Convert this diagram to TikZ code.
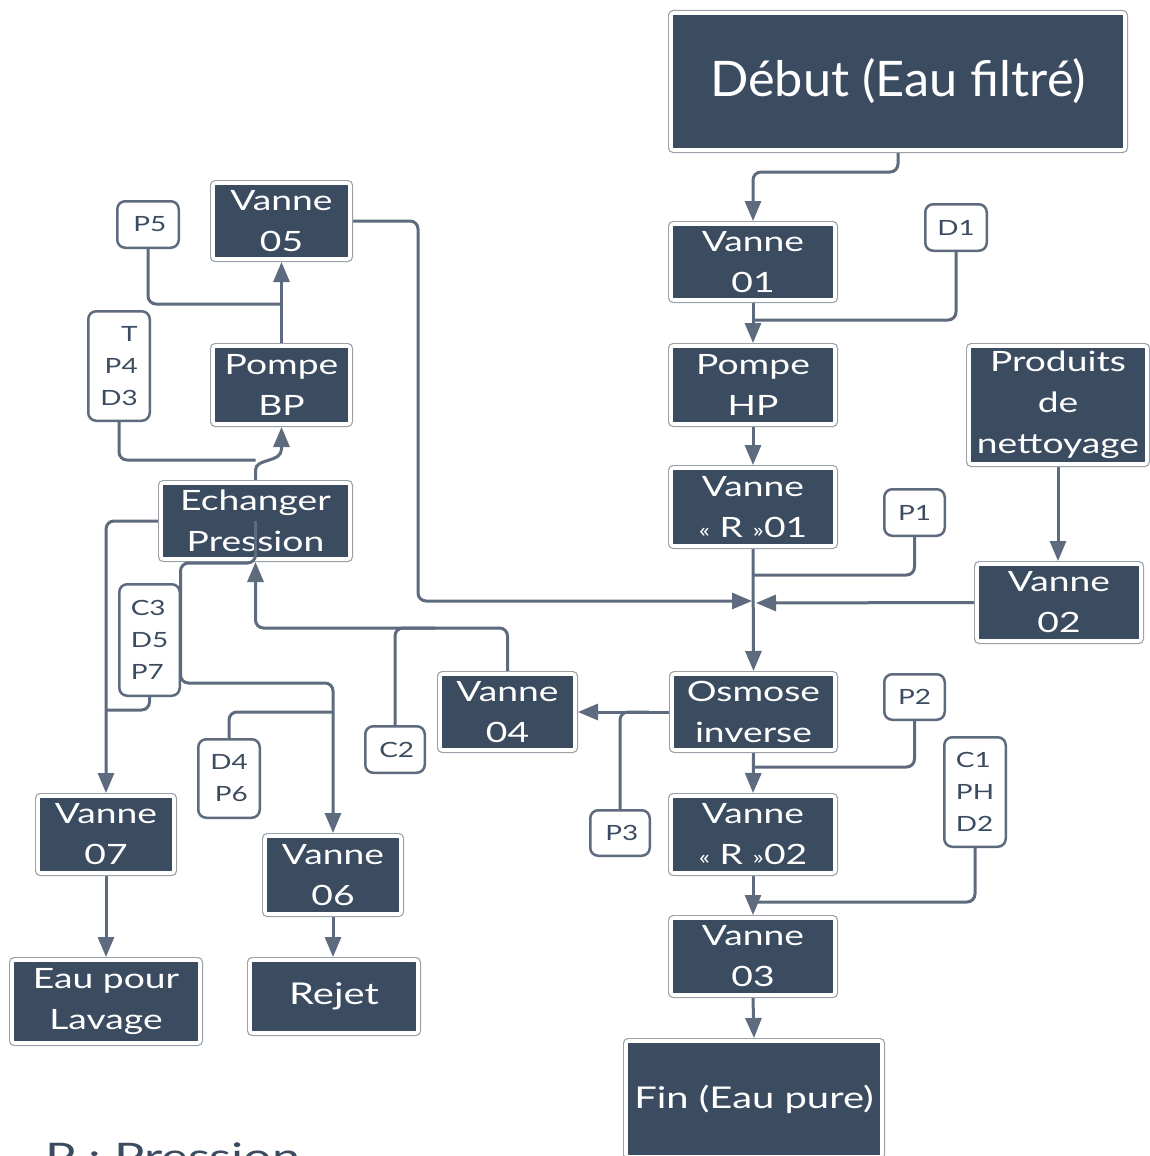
\documentclass[tikz,border=0pt]{standalone}
\usepackage{fontspec}
\setmainfont{Lato}
\newfontfamily\boxfont{Lato}[FakeStretch=1.33]
\newfontfamily\bigfont{Lato}[FakeStretch=1.03]
\usetikzlibrary{arrows.meta,calc}
\definecolor{navy}{HTML}{3B4B60}
\definecolor{wire}{HTML}{5E6A7D}
\definecolor{rim}{HTML}{9AA0A8}
\pgfdeclarelayer{bg}
\pgfsetlayers{bg,main}
\tikzset{
  blk/.style={rectangle, rounded corners=2.5pt, fill=navy, draw=white,
    line width=3.6pt, text=white, align=center, inner sep=0pt, outer sep=3pt,
    preaction={draw=rim, line width=6pt},
    font=\boxfont\fontsize{28}{41}\selectfont},
  tag/.style={rectangle, rounded corners=8pt, fill=white, draw=wire,
    line width=2.5pt, text=navy, inner sep=0pt, outer sep=1.25pt,
    font=\boxfont\fontsize{21}{32}\selectfont},
  wire/.style={draw=wire, line width=3pt, rounded corners=8pt},
  arr/.style={wire, -{Triangle[length=20pt,width=16pt]}},
}
\begin{document}
\begin{tikzpicture}[x=1pt,y=-1pt]
\useasboundingbox (0,0) rectangle (1149,1156);

% main process blocks
\node[blk, minimum width=454pt, minimum height=137pt, font=\bigfont\fontsize{49}{60}\selectfont] (deb) at (898,81.5) {Début (Eau filtré)};
\node[blk, minimum width=164pt, minimum height=76pt] (v01) at (753,262) {Vanne\\01};
\node[blk, minimum width=164pt, minimum height=78pt] (php) at (753,385) {Pompe\\HP};
\node[blk, minimum width=164pt, minimum height=78pt] (vr01) at (753,507) {Vanne\\{\fontsize{20}{20}\selectfont«} R {\fontsize{20}{20}\selectfont»}01};
\node[blk, minimum width=178pt, minimum height=118pt] (prod) at (1058,405) {Produits\\de\\nettoyage};
\node[blk, minimum width=164pt, minimum height=77pt] (v02) at (1059,602.5) {Vanne\\02};
\node[blk, minimum width=163pt, minimum height=76pt] (osm) at (753.5,712) {Osmose\\inverse};
\node[blk, minimum width=135pt, minimum height=76pt] (v04) at (507.5,712) {Vanne\\04};
\node[blk, minimum width=164pt, minimum height=77pt] (vr02) at (753,834.5) {Vanne\\{\fontsize{20}{20}\selectfont«} R {\fontsize{20}{20}\selectfont»}02};
\node[blk, minimum width=164pt, minimum height=77pt] (v03) at (753,956.5) {Vanne\\03};
\node[blk, minimum width=256pt, minimum height=116pt, font=\boxfont\fontsize{30}{40}\selectfont] (fin) at (754,1099) {Fin (Eau pure)};

\node[blk, minimum width=137pt, minimum height=76pt] (v05) at (281.5,221) {Vanne\\05};
\node[blk, minimum width=137pt, minimum height=78pt] (pbp) at (281.5,385) {Pompe\\BP};
\node[blk, minimum width=189pt, minimum height=76pt] (ech) at (255.5,521) {Echanger\\Pression};
\node[blk, minimum width=136pt, minimum height=77pt] (v07) at (106,834.5) {Vanne\\07};
\node[blk, minimum width=136pt, minimum height=78pt] (v06) at (333,875) {Vanne\\06};
\node[blk, minimum width=188pt, minimum height=83pt] (eau) at (106,1001.5) {Eau pour\\Lavage};
\node[blk, minimum width=168pt, minimum height=73pt, font=\boxfont\fontsize{30}{40}\selectfont] (rej) at (334,996.5) {Rejet};

% measurement tags
\node[tag, minimum width=61.5pt, minimum height=46.5pt] (p5) at (148,224.5) {\,P5};
\node[tag, minimum width=61.5pt, minimum height=109.5pt, align=right] (tpd) at (119,366) {T\\P4\\D3};
\node[tag, minimum width=61.5pt, minimum height=46.5pt] (d1) at (956,227.5) {D1};
\node[tag, minimum width=60.5pt, minimum height=46.5pt] (p1) at (914.5,512.5) {P1};
\node[tag, minimum width=60.5pt, minimum height=45.5pt] (p2) at (914.5,697) {P2};
\node[tag, minimum width=61.5pt, minimum height=109.5pt, align=left] (c1) at (975,792) {C1\\PH\\D2};
\node[tag, minimum width=59.5pt, minimum height=45.5pt] (p3) at (620,833) {\,P3};
\node[tag, minimum width=59.5pt, minimum height=46.5pt] (c2) at (395,749.5) {\,C2};
\node[tag, minimum width=61.5pt, minimum height=78.5pt, align=right] (d4) at (229,778.5) {D4\\P6};
\node[tag, minimum width=60.5pt, minimum height=111.5pt, align=left] (c3) at (149.5,640) {C3\\D5\\P7};

% legend line
\node[anchor=base west, text=navy, inner sep=0pt, font=\boxfont\fontsize{38}{38}\selectfont] (leg) at (45,1170) {P : Pression};

\coordinate (jR) at (756,603);
\coordinate (jL) at (752,601);

\begin{pgfonlayer}{bg}
\fill[white] (0,0) rectangle (1149,1156);
% main line
\draw[arr] (deb.south) -- ++(0,19) -| (v01.north);
\draw[arr] (v01.south) -- (php.north);
\draw[arr] (php.south) -- (vr01.north);
\draw[arr] (vr01.south) -- (osm.north);
\draw[arr] (prod.south) -- (prod.south |- v02.north);
\draw[arr] (v02.west) -- (jR);
\draw[arr] (v05.east) -- ++(65,0) |- (jL);
\draw[arr] (osm.south) -- (vr02.north);
\draw[arr] (vr02.south) -- (v03.north);
\draw[arr] (v03.south) -- (fin.north);
\draw[arr] (osm.west) -- (v04.east);
\draw[arr] (v04.north) -- ++(0,-43) -| (ech.south);
\draw[arr, rounded corners=0pt] (ech.north) -- ++(0,-10) .. controls +(0,-12) and +(0,14) .. ($(pbp.south)+(0,22)$) -- (pbp.south);
\draw[arr] (pbp.north) -- (v05.south);
\draw[arr] (ech.west) -| (v07.north);
\draw[arr] (v07.south) -- (v07.south |- eau.north);
\draw[arr] (v06.south) -- (v06.south |- rej.north);
% sensor taps
\draw[wire] (d1.south) |- ($(v01.south)+(0,17)$);
\draw[wire] (p1.south) |- ($(vr01.south)+(0,26)$);
\draw[wire] (p2.south) |- ($(osm.south)+(0,14)$);
\draw[wire] (c1.south) |- ($(vr02.south)+(0,26)$);
\draw[wire] (p3.north) |- ($(osm.west)+(-20,0)$);
\draw[wire] (c2.north) -- ++(0,-97) -- ++(40,0);
\draw[wire] (tpd.south) |- ($(ech.north)+(0,-20)$);
\draw[wire] (p5.south) |- ($(v05.south)+(0,42)$);
\draw[wire] (c3.south) |- ($(v07.north|-c3.south)+(0,13)$);
\draw[wire] (d4.north) |- ($(v06.north)+(0,-121)$);
\end{pgfonlayer}
% reject line leaving the exchanger from its centre
\draw[arr] (ech.center) -- ++(0,42) -- ++(-75,0) |- ($(v06.north)+(0,-150)$) -- (v06.north);
\end{tikzpicture}
\end{document}
